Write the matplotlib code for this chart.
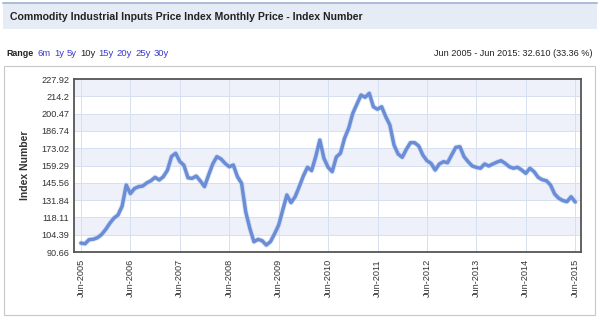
import numpy as np
import matplotlib
matplotlib.use("Agg")
import matplotlib.pyplot as plt
from matplotlib.patches import Rectangle

# Monthly index values, Jun 2005 .. Jun 2015
values = [97.75, 97.2, 100.5, 100.8, 102.0, 104.5, 108.5, 113.4, 117.5, 120.0,
          127.0, 143.8, 137.0, 141.0, 142.5, 143.0, 145.5, 147.2, 149.9, 147.8,
          150.4, 155.5, 166.5, 169.0, 162.5, 159.5, 149.5, 149.1, 150.9, 147.0,
          142.5, 151.8, 160.5, 166.3, 164.5, 161.0, 158.3, 159.7, 150.4, 145.2,
          122.6, 109.5, 98.8, 100.7, 99.6, 96.2, 98.8, 105.0, 112.0, 124.0,
          135.9, 129.8, 134.5, 142.5, 151.0, 157.9, 155.2, 166.3, 179.5, 165.0,
          157.9, 154.4, 166.0, 169.0, 180.9, 188.8, 200.7, 208.0, 215.2, 213.4,
          216.6, 205.9, 203.9, 205.9, 198.0, 191.4, 175.6, 168.4, 165.8, 172.1,
          177.4, 177.4, 174.8, 167.6, 163.1, 161.0, 155.7, 160.5, 162.3, 161.5,
          167.6, 173.7, 174.2, 166.3, 162.3, 158.9, 157.8, 157.1, 160.5, 158.9,
          160.5, 162.0, 163.1, 161.0, 158.3, 157.1, 157.9, 155.7, 153.1, 157.1,
          154.4, 149.9, 148.0, 147.2, 143.8, 136.7, 133.3, 131.5, 130.6, 134.5,
          130.36]
months = list(range(len(values)))
year_labels = ["Jun-2005", "Jun-2006", "Jun-2007", "Jun-2008", "Jun-2009", "Jun-2010",
               "Jun-2011", "Jun-2012", "Jun-2013", "Jun-2014", "Jun-2015"]
y_ticks = [90.66, 104.39, 118.11, 131.84, 145.56, 159.29, 173.02, 186.74, 200.47, 214.2, 227.92]
range_links = ["6m", "1y", "5y", "10y", "15y", "20y", "25y", "30y"]

plt.rcParams['font.family'] = ['Liberation Sans', 'DejaVu Sans']

fig = plt.figure(figsize=(6, 3.22), dpi=100)
W, H = 600, 322

def fx(px):
    return px / W

def fy(py):
    return 1 - py / H

# title bar
fig.patches.append(Rectangle((fx(3), fy(29)), fx(594), 26 / H, transform=fig.transFigure,
                             facecolor="#e6ecf6", edgecolor="none"))
fig.lines.append(plt.Line2D([fx(3), fx(597)], [fy(3), fy(3)], transform=fig.transFigure,
                            color="#9fb2d4", lw=1.2))
fig.text(fx(10), fy(17), "Commodity Industrial Inputs Price Index Monthly Price - Index Number",
         fontsize=7.6, fontweight="bold", color="#222222", va="center")

# range row
renderer = fig.canvas.get_renderer()
t = fig.text(fx(6), fy(54), "Range", fontsize=6.4, fontweight="bold", color="#222222",
             va="center")
xpos = 38
for lab in range_links:
    col = "#222222" if lab == "10y" else "#3a3acc"
    t = fig.text(fx(xpos), fy(54), lab, fontsize=6.8, color=col, va="center")
    xpos += t.get_window_extent(renderer).width + 3
fig.text(fx(592), fy(54), "Jun 2005 - Jun 2015: 32.610 (33.36 %)", fontsize=6.6,
         color="#222222", va="center", ha="right")

# chart frame
fig.patches.append(Rectangle((fx(4), fy(315)), fx(591), 249 / H, transform=fig.transFigure,
                             facecolor="none", edgecolor="#c8c8c8", lw=0.8))

ax = fig.add_axes([fx(73.5), fy(252), fx(581 - 73.5), (252 - 79) / H])
ax.set_xlim(-1.8, 121.4)
ax.set_ylim(y_ticks[0], y_ticks[-1])

# alternating bands
for i in range(len(y_ticks) - 1):
    if i % 2 == 1:
        ax.axhspan(y_ticks[i], y_ticks[i + 1], color="#eef1fa", lw=0, zorder=0)

ax.set_yticks(y_ticks)
ax.set_yticklabels([f"{v:g}" for v in y_ticks])
ax.set_xticks(range(0, 121, 12))
ax.set_xticklabels(year_labels, rotation=90)
ax.grid(True, color="#d7e0f0", lw=0.7, zorder=1)
ax.tick_params(length=0, labelsize=6.6, labelcolor="#333333", pad=3)
ax.tick_params(axis="x", pad=5)
for s in ax.spines.values():
    s.set_color("#555555")
    s.set_linewidth(1.3)

ax.plot(months, values, color="#c8d2e8", lw=3.8, alpha=0.6, zorder=2,
        solid_capstyle="round", solid_joinstyle="round")
ax.plot(months, values, color="#6a8dd8", lw=2.5, zorder=3,
        solid_capstyle="round", solid_joinstyle="round")

fig.text(fx(25), fy(165), "Index Number", rotation=90, fontsize=7.5, fontweight="bold",
         color="#333333", va="center", ha="center")

fig.savefig("out.png", dpi=100)
